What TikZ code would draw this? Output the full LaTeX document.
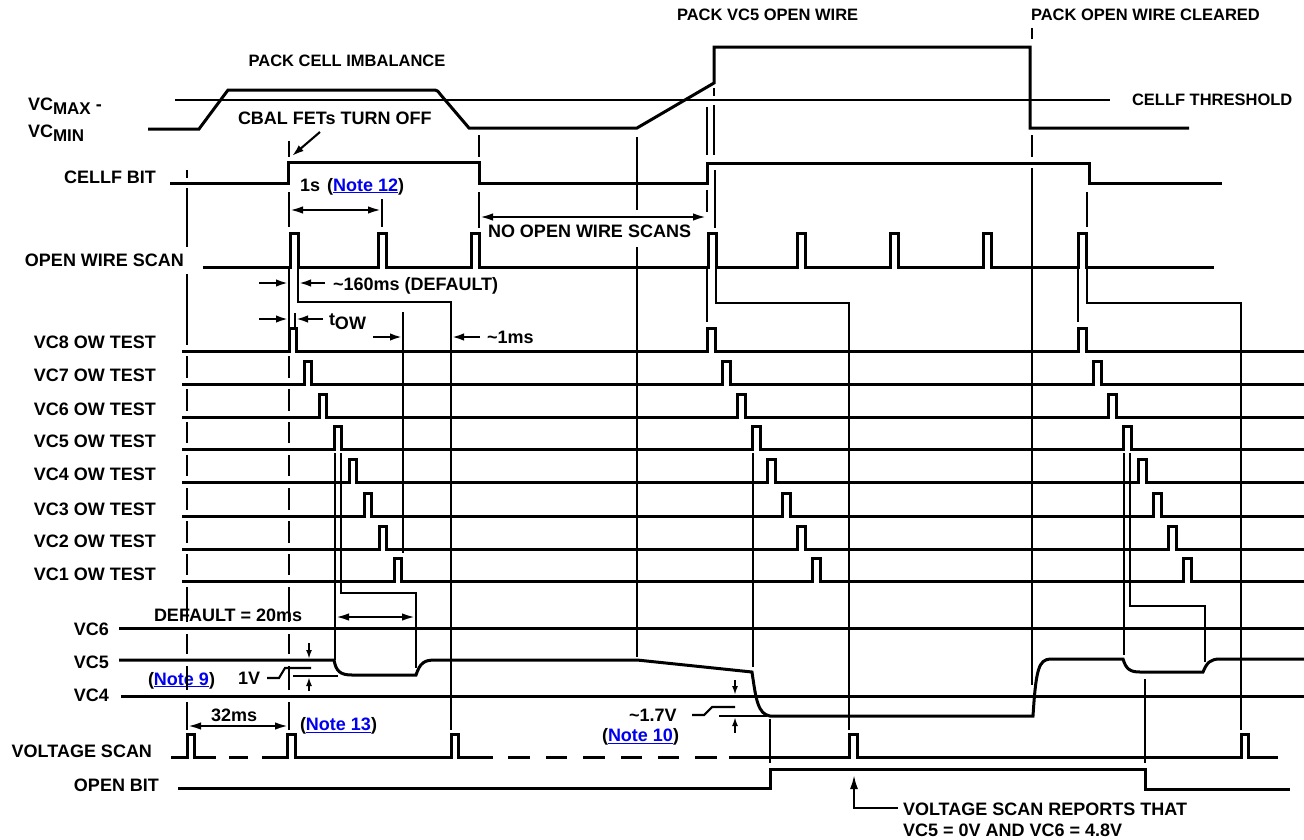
\documentclass[tikz,border=0pt]{standalone}
\usepackage{fontspec}
\setmainfont{Liberation Sans}
\usetikzlibrary{arrows.meta}
\definecolor{noteblue}{RGB}{0,0,238}
\newcommand\nt[1]{\textcolor{noteblue}{\underline{#1}}}
\newcommand\tld{\textasciitilde}
\begin{document}
\begin{tikzpicture}[x=1pt,y=-1pt,
  sig/.style={line width=3pt,line join=miter},
  thn/.style={line width=2.1pt},
  dimarr/.style={thn,{Latex[length=13pt,width=7.5pt]}-{Latex[length=13pt,width=7.5pt]}},
  onearr/.style={thn,-{Latex[length=12pt,width=7.5pt]}},
  smallarr/.style={thn,-{Latex[length=9pt,width=6pt]}},
  lbl/.style={font=\fontsize{18}{20}\selectfont\bfseries,inner sep=0pt,outer sep=0pt},
  ttl/.style={font=\fontsize{16.5}{18}\selectfont\bfseries,inner sep=0pt,outer sep=0pt}]
\useasboundingbox (0,0) rectangle (1304,839);

% ---------- left labels ----------
\node[lbl,anchor=base west] (lvcmax) at (28,110) {VC\raisebox{-4.5pt}{\fontsize{17}{17}\selectfont MAX} -};
\node[lbl,anchor=base west] (lvcmin) at (28,137) {VC\raisebox{-4.5pt}{\fontsize{17}{17}\selectfont MIN}};
\node[lbl,anchor=base east] (lcellf) at (156,183.5) {CELLF BIT};
\node[lbl,anchor=base east] (lows) at (184,266.7) {OPEN WIRE SCAN};
\foreach \n/\yb in {8/348.3,7/381.7,6/415,5/447.3,4/480.7,3/515,2/547.3,1/580.7}
  \node[lbl,anchor=base east] (lvc\n ow) at (156,\yb) {VC\n{} OW TEST};
\node[lbl,anchor=base east] (lvcsix) at (109,635) {VC6};
\node[lbl,anchor=base east] (lvcfive) at (109,668.3) {VC5};
\node[lbl,anchor=base east] (lvcfour) at (109,701.7) {VC4};
\node[lbl,anchor=base east] (lvscan) at (152,757.7) {VOLTAGE SCAN};
\node[lbl,anchor=base east] (lopen) at (159,791.7) {OPEN BIT};

% ---------- titles / annotations ----------
\node[ttl,anchor=base] (tpci) at (347,66.7) {PACK CELL IMBALANCE};
\node[ttl,anchor=base west] (tpvc5) at (677,20.7) {PACK VC5 OPEN WIRE};
\node[ttl,anchor=base west] (tpclr) at (1031,20.7) {PACK OPEN WIRE CLEARED};
\node[ttl,anchor=base west] (tthr) at (1132,105) {CELLF THRESHOLD};
\node[lbl,anchor=base west] (tcbal) at (238,124) {CBAL FETs TURN OFF};
\node[lbl,anchor=base west] (t1s) at (300,191) {1s\hspace{7pt}(\nt{Note 12})};
\node[lbl,anchor=base west] (tnoow) at (488,237.3) {NO OPEN WIRE SCANS};
\node[lbl,anchor=base west] (t160) at (333,290) {\tld160ms (DEFAULT)};
\node[lbl,anchor=base west] (ttow) at (329,325) {t\raisebox{-4pt}{OW}};
\node[lbl,anchor=base west] (t1ms) at (487,343) {\tld1ms};
\node[lbl,anchor=base west] (t20) at (154,621) {DEFAULT = 20ms};
\node[lbl,anchor=base west] (tn9) at (148,685) {(\nt{Note 9})};
\node[lbl,anchor=base west] (t1v) at (238,684) {1V};
\node[lbl,anchor=base west] (t32) at (211,721) {32ms};
\node[lbl,anchor=base west] (tn13) at (300,730.7) {(\nt{Note 13})};
\node[lbl,anchor=base west] (t17) at (629,721.7) {\tld1.7V};
\node[lbl,anchor=base west] (tn10) at (602,741.7) {(\nt{Note 10})};
\node[lbl,anchor=base west] (trep1) at (903,815) {VOLTAGE SCAN REPORTS THAT};
\node[lbl,anchor=base west] (trep2) at (903,836.7) {VC5 = 0V AND VC6 = 4.8V};

% ---------- waveforms ----------
% VCMAX - VCMIN
\draw[sig] (148,129) -- (199,129) -- (228,90) -- (433,90) .. controls (437,90) and (438,91) .. (440,94) -- (469,128) -- (637,128) -- (714,83) -- (714,47) -- (1030,47) -- (1030,128) -- (1189,128);
% threshold
\draw[thn] (175,100) -- (1110,100);
% CELLF bit
\draw[sig] (170,183) -- (288,183) -- (288,162) -- (479,162) -- (479,183) -- (707,183) -- (707,163) -- (1089,163) -- (1089,183) -- (1222,183);
% open wire scan
\draw[sig] (203,267) foreach \p in {290,378,471,708,797,890,983,1078} { -- (\p,267) -- (\p,233) -- ({\p+8},233) -- ({\p+8},267) } -- (1214,267);
% OW tests
\foreach \y [count=\i from 0] in {351,384,417,449,482,516,549,581}
  \draw[sig] (182,\y) -- ({289+15*\i},\y) -- ({289+15*\i},{\y-23}) -- ({296+15*\i},{\y-23}) -- ({296+15*\i},\y)
    -- ({707+15*\i},\y) -- ({707+15*\i},{\y-23}) -- ({715+15*\i},{\y-23}) -- ({715+15*\i},\y)
    -- ({1078+15*\i},\y) -- ({1078+15*\i},{\y-23}) -- ({1086+15*\i},{\y-23}) -- ({1086+15*\i},\y) -- (1304,\y);
% VC6, VC4
\draw[sig] (119,628) -- (1304,628);
\draw[sig] (121,696) -- (1304,696);
% VC5
\draw[sig] (119,660) -- (334,660) .. controls (336,671) and (340,675) .. (352,675) -- (416,675)
  .. controls (420,663) and (424,660) .. (435,660) -- (637,660) -- (752,672)
  .. controls (756,700) and (758,714) .. (770,716) -- (1033,716)
  .. controls (1036,668) and (1039,660) .. (1050,659) -- (1123,659)
  .. controls (1126,669) and (1130,672) .. (1140,672) -- (1203,672)
  .. controls (1207,662) and (1211,659) .. (1220,659) -- (1304,659);
% voltage scan
\draw[sig] (171,757) -- (187,757) -- (187,734) -- (194,734) -- (194,757) -- (216,757);
\draw[sig] (229,757) -- (248,757);
\draw[sig] (262,757) -- (287,757) -- (287,734) -- (295,734) -- (295,757) -- (451,757) -- (451,734) -- (458,734) -- (458,757) -- (493,757);
\foreach \a/\b in {508/530,546/567,583/605,621/642,658/679,695/717}
  \draw[sig] (\a,757) -- (\b,757);
\draw[sig] (729,757) -- (849,757) -- (849,734) -- (857,734) -- (857,757) -- (1241,757) -- (1241,734) -- (1248,734) -- (1248,757) -- (1278,757);
% open bit
\draw[sig] (178,788) -- (770,788) -- (770,769) -- (1145,769) -- (1145,789) -- (1290,789);

% ---------- marker lines ----------
\foreach \a/\b in {170/178,188/247,274/345,356/378,389/411,422/443,455/476,488/510,521/543,554/575,587/622,634/654,666/690,702/730}
  \draw[thn] (187,\a) -- (187,\b);
\foreach \a/\b in {141/157,192/227,267/327,356/378,389/411,422/443,455/476,488/510,521/543,554/575,587/622,634/654,666/690,702/730}
  \draw[thn] (289,\a) -- (289,\b);
\draw[thn] (298,267) -- (298,302) -- (451,302) -- (451,730);
\draw[thn] (295,313) -- (295,327);
\draw[thn] (403,312) -- (403,553);
\draw[thn] (382,199) -- (382,227);
\draw[thn] (335,453) -- (335,660);
\draw[thn] (341,453) -- (341,593) -- (416,593) -- (416,668);
\foreach \a/\b in {135/157,192/228}
  \draw[thn] (479,\a) -- (479,\b);
\draw[thn] (637,137) -- (637,210);
\draw[thn] (637,247) -- (637,657);
\draw[thn] (707,107) -- (707,155);
\draw[thn] (714,88) -- (714,96);
\draw[thn] (714,105) -- (714,155);
\draw[thn] (707,190) -- (707,212);
\draw[thn] (715,170) -- (715,228);
\draw[thn] (707,267) -- (707,322);
\draw[thn] (716,267) -- (716,303) -- (849,303) -- (849,730);
\draw[thn] (753,453) -- (753,667);
\draw[thn] (770,719) -- (770,763);
\draw[thn] (1032,28) -- (1032,39);
\draw[thn] (1032,135) -- (1032,157);
\draw[thn] (1032,168) -- (1032,685);
\draw[thn] (1087,192) -- (1087,227);
\draw[thn] (1078,267) -- (1078,322);
\draw[thn] (1087,267) -- (1087,303) -- (1241,303) -- (1241,730);
\draw[thn] (1124,453) -- (1124,655);
\draw[thn] (1130,453) -- (1130,606) -- (1205,606) -- (1205,662);
\draw[thn] (1145,679) -- (1145,763);

% ---------- dimension arrows ----------
\draw[onearr] (320,132) -- (292,156);
\draw[dimarr] (290,210) -- (381,210);
\draw[dimarr] (480,217) -- (706,217);
\draw[onearr] (259,283) -- (288,283);
\draw[onearr] (325,283) -- (299,283);
\draw[onearr] (259,319) -- (288,319);
\draw[onearr] (323,319) -- (296,319);
\draw[onearr] (373,337) -- (402,337);
\draw[onearr] (480,337) -- (452,337);
\draw[dimarr] (336,617) -- (415,617);
\draw[dimarr] (188,726) -- (288,726);
% 1V
\draw[smallarr] (309,643) -- (309,659);
\draw[smallarr] (309,691) -- (309,677);
\draw[thn] (293,676) -- (338,676);
\draw[thn] (267,678) -- (279,678) -- (285,668) -- (311,668);
% 1.7V
\draw[smallarr] (735,680) -- (735,695);
\draw[smallarr] (735,733) -- (735,717);
\draw[thn] (719,716) -- (767,716);
\draw[thn] (692,715) -- (704,715) -- (712,707) -- (735,707);
% report arrow
\draw[thn,-{Latex[length=14pt,width=8pt]}] (898,808) -- (854,808) -- (854,775);
\end{tikzpicture}
\end{document}
